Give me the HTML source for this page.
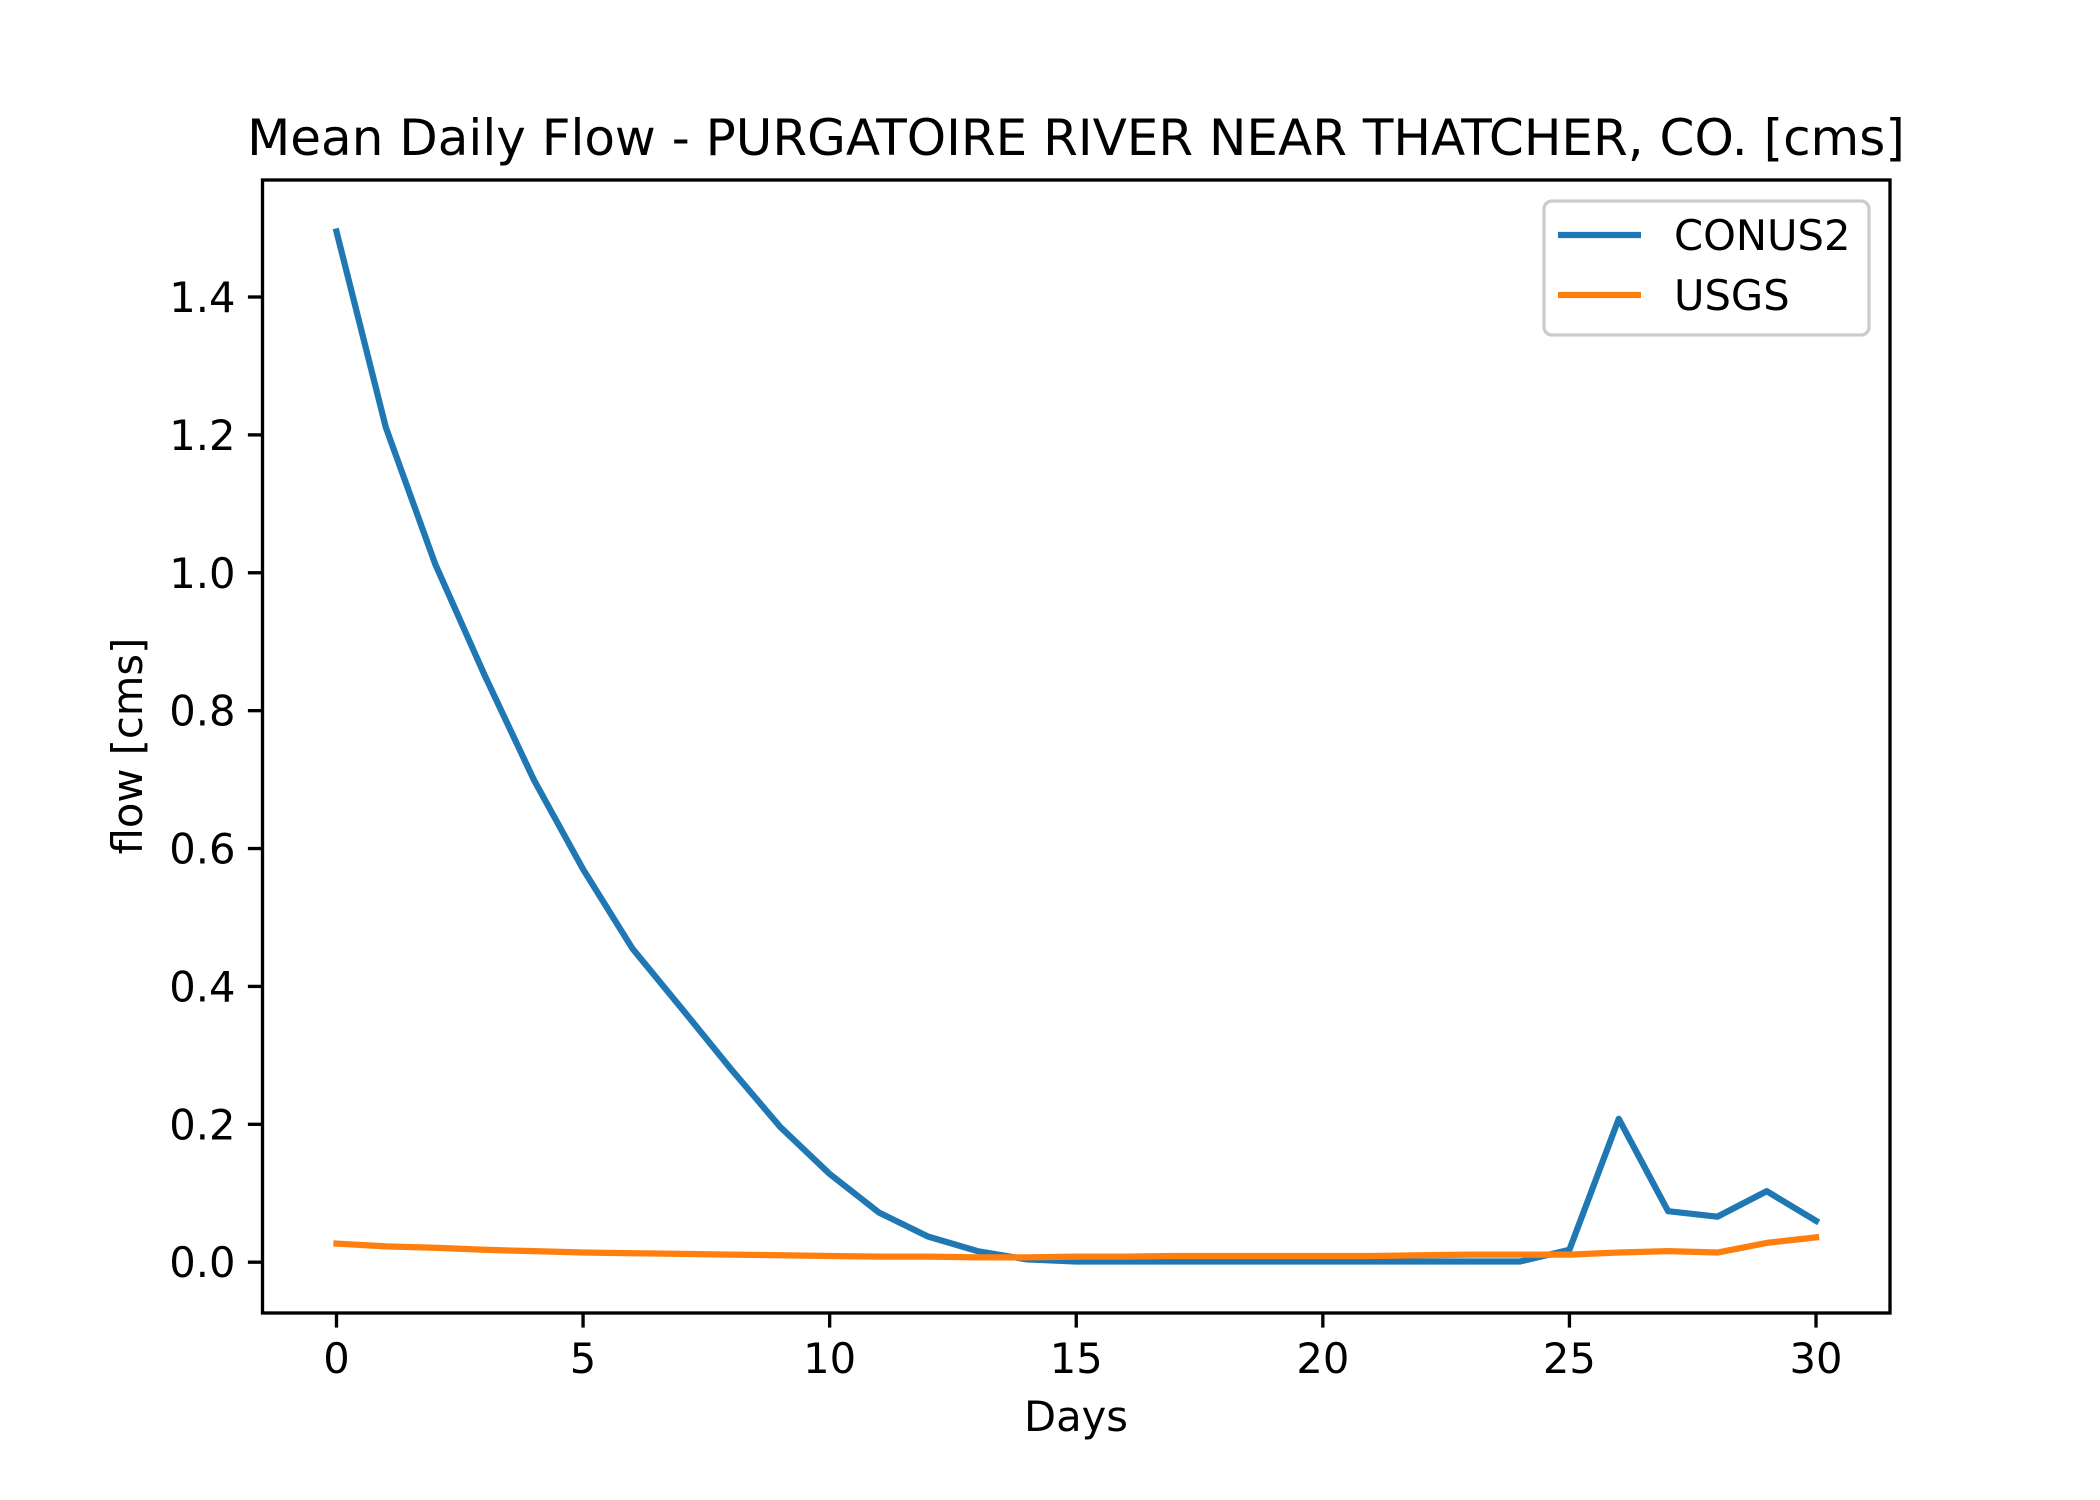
<!DOCTYPE html>
<html><head><meta charset="utf-8"><style>
html,body{margin:0;padding:0;background:#fff;}
svg{display:block;font-family:"DejaVu Sans","Liberation Sans",sans-serif;}
</style></head><body>
<svg id="chart" width="2100" height="1500" viewBox="0 0 2100 1500">
<rect x="0" y="0" width="2100" height="1500" fill="#fff"/>
<text x="1076" y="155" font-size="50" text-anchor="middle">Mean Daily Flow - PURGATOIRE RIVER NEAR THATCHER, CO. [cms]</text>
<g id="plot"></g>
<text x="1076" y="1431" font-size="41.67" text-anchor="middle">Days</text>
<text transform="translate(142,746) rotate(-90)" font-size="41.67" text-anchor="middle">flow [cms]</text>
<rect x="262.5" y="180" width="1627.5" height="1133" fill="none" stroke="#000" stroke-width="3.33"/>
<g>
<rect x="1544" y="201" width="325" height="134" rx="8" fill="#fff" fill-opacity="0.8" stroke="#ccc" stroke-width="3.33"/>
<line x1="1558" y1="235" x2="1641" y2="235" stroke="#1f77b4" stroke-width="6.25"/>
<text x="1674" y="250" font-size="41.67">CONUS2</text>
<line x1="1558" y1="295" x2="1641" y2="295" stroke="#ff7f0e" stroke-width="6.25"/>
<text x="1674" y="310" font-size="41.67">USGS</text>
</g>
</svg>
<script>
const days = [0,1,2,3,4,5,6,7,8,9,10,11,12,13,14,15,16,17,18,19,20,21,22,23,24,25,26,27,28,29,30];
const conus2 = [1.495,1.211,1.013,0.852,0.700,0.570,0.455,0.368,0.280,0.196,0.128,0.072,0.037,0.016,0.004,0.001,0.001,0.001,0.001,0.001,0.001,0.001,0.001,0.001,0.001,0.018,0.208,0.074,0.066,0.103,0.060];
const usgs = [0.027,0.023,0.021,0.018,0.016,0.014,0.013,0.012,0.011,0.010,0.009,0.008,0.008,0.007,0.007,0.008,0.008,0.009,0.009,0.009,0.009,0.009,0.010,0.011,0.011,0.011,0.014,0.016,0.014,0.028,0.036];
const xTicks = [0,5,10,15,20,25,30];
const yTicks = [0.0,0.2,0.4,0.6,0.8,1.0,1.2,1.4];
const yTickLabels = ["0.0","0.2","0.4","0.6","0.8","1.0","1.2","1.4"];

const L=262.5,R=1890,T=180,B=1313;
const xmin=-1.5,xmax=31.5;
const allY=conus2.concat(usgs);
const dmin=Math.min(...allY),dmax=Math.max(...allY),pad=(dmax-dmin)*0.05;
const ymin=dmin-pad,ymax=dmax+pad;
const sx=v=>L+(v-xmin)/(xmax-xmin)*(R-L);
const sy=v=>B-(v-ymin)/(ymax-ymin)*(B-T);
const NS='http://www.w3.org/2000/svg';
const plot=document.getElementById('plot');
function mk(tag,attrs){const e=document.createElementNS(NS,tag);for(const k in attrs)e.setAttribute(k,attrs[k]);return e;}

xTicks.forEach(t=>{
  const ln=mk('line',{x1:sx(t),x2:sx(t),y1:B,y2:B+14.6,stroke:'#000','stroke-width':3.33});
  
  
  plot.appendChild(ln);
  const tx=mk('text',{x:sx(t),y:B+60,'font-size':41.67,'text-anchor':'middle'});
  tx.textContent=String(t);
  
  
  plot.appendChild(tx);
});
yTicks.forEach((t,i)=>{
  const ln=mk('line',{x1:L-14.6,x2:L,y1:sy(t),y2:sy(t),stroke:'#000','stroke-width':3.33});
  
  
  plot.appendChild(ln);
  const tx=mk('text',{x:L-27,y:sy(t)+15,'font-size':41.67,'text-anchor':'end'});
  tx.textContent=yTickLabels[i];
  
  
  plot.appendChild(tx);
});
function line(vals,color,name){
  const d=vals.map((v,i)=>(i?'L':'M')+sx(days[i]).toFixed(2)+','+sy(v).toFixed(2)).join(' ');
  const p=mk('path',{d:d,fill:'none',stroke:color,'stroke-width':6.25,'stroke-linejoin':'round','stroke-linecap':'square'});
  
  
  plot.appendChild(p);
}
line(conus2,'#1f77b4','conus2-line');
line(usgs,'#ff7f0e','usgs-line');
</script>
</body></html>
